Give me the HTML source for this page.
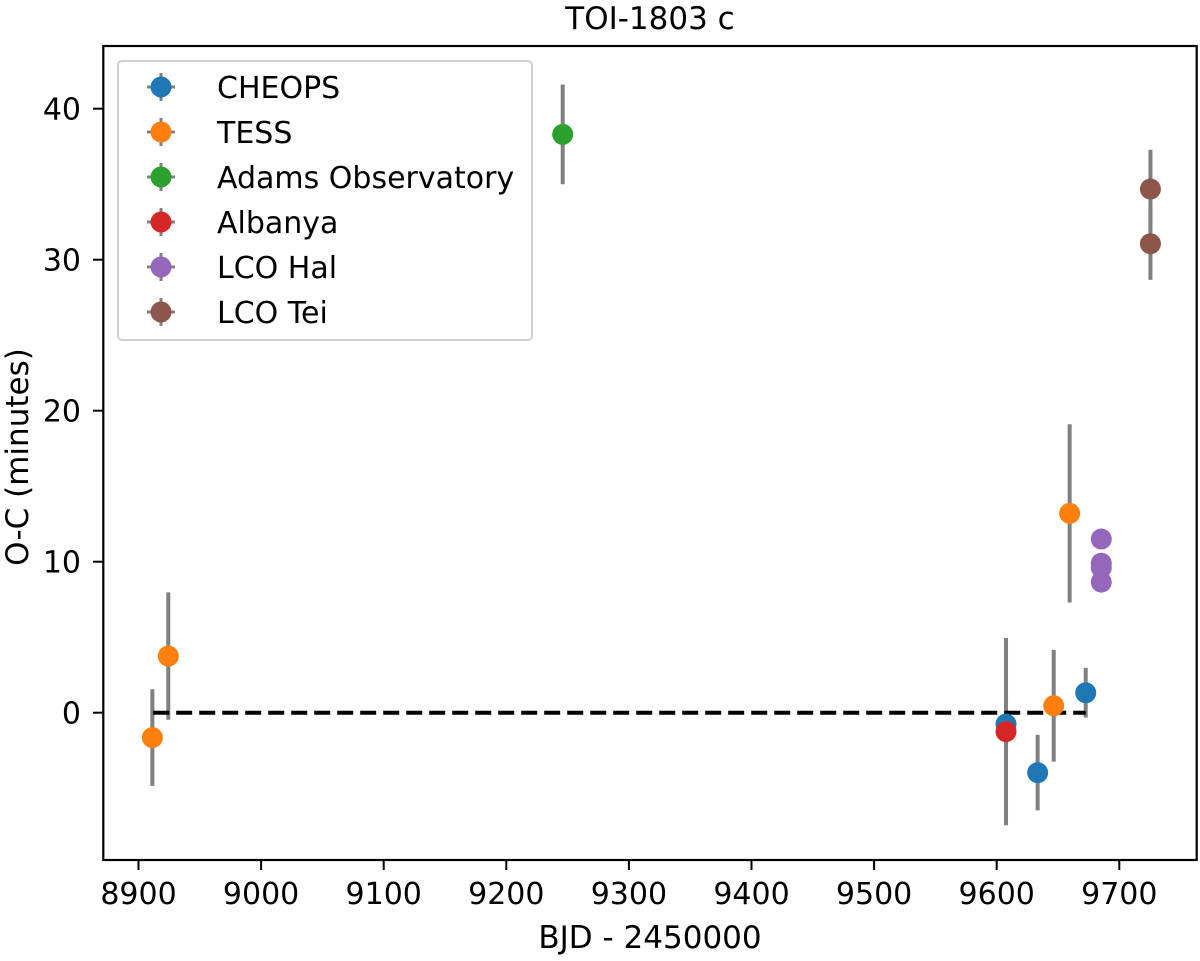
<!DOCTYPE html>
<html><head><meta charset="utf-8"><style>
html,body{margin:0;padding:0;background:#fff;}
svg text{font-family:"DejaVu Sans","Liberation Sans",sans-serif;fill:#000;}
</style></head><body>
<svg id="chart" width="1200" height="956" viewBox="0 0 1200 956" xmlns="http://www.w3.org/2000/svg">
<text x="650" y="29" font-size="31" text-anchor="middle">TOI-1803 c</text>
<g id="marks"></g>
<rect x="103.3" y="46" width="1093.4" height="814" fill="none" stroke="#000" stroke-width="2.2"/>
<g id="xticks"></g><g id="yticks"></g>
<text x="650" y="948" font-size="31" text-anchor="middle">BJD - 2450000</text>
<text transform="translate(28,457) rotate(-90)" font-size="31" text-anchor="middle">O-C (minutes)</text>
<g id="legend"></g>
</svg>
<script>
const seriesNames = ["CHEOPS","TESS","Adams Observatory","Albanya","LCO Hal","LCO Tei"];
const seriesColors = ["#1f77b4","#ff7f0e","#2ca02c","#d62728","#9467bd","#8c564b"];
const cheopsX = [9607.6, 9633.4, 9672.6];
const cheopsY = [-0.75, -3.97, 1.32];
const cheopsErr = [1.5, 2.5, 1.65];
const tessX = [8911.3, 8924.3, 9646.5, 9659.5];
const tessY = [-1.65, 3.75, 0.46, 13.2];
const tessErr = [3.2, 4.22, 3.7, 5.9];
const adamsX = [9246];
const adamsY = [38.3];
const adamsErr = [3.3];
const albanyaX = [9607.6];
const albanyaY = [-1.25];
const albanyaErr = [6.2];
const halX = [9685.3, 9685.3, 9685.3, 9685.3];
const halY = [11.5, 9.9, 9.6, 8.65];
const halErr = [0.5, 0.5, 0.5, 0.5];
const teiX = [9725.4, 9725.4];
const teiY = [34.68, 31.06];
const teiErr = [2.6, 2.4];
const refLineX = [8912, 9672.6];
const refLineY = [0, 0];
const xTicks = [8900, 9000, 9100, 9200, 9300, 9400, 9500, 9600, 9700];
const yTicks = [0, 10, 20, 30, 40];

const NS = "http://www.w3.org/2000/svg";
function X(v){ return 138.5 + (v - 8900) * 1.226; }
function Y(v){ return 712.7 - v * 15.1; }
function mk(tag, attrs, parent){ const e=document.createElementNS(NS,tag); for(const k in attrs) e.setAttribute(k,attrs[k]); parent.appendChild(e); return e; }

const marks = document.getElementById("marks");
const allSeries = [[cheopsX,cheopsY,cheopsErr],[tessX,tessY,tessErr],[adamsX,adamsY,adamsErr],[albanyaX,albanyaY,albanyaErr],[halX,halY,halErr],[teiX,teiY,teiErr]];
allSeries.forEach((s,si)=>{
  s[0].forEach((x,i)=>{
    const l = mk("line",{x1:X(x),x2:X(x),y1:Y(s[1][i]+s[2][i]),y2:Y(s[1][i]-s[2][i]),stroke:"#808080","stroke-width":4},marks);
    
    
  });
});
const ref = mk("line",{x1:X(refLineX[0]),x2:X(refLineX[1]),y1:Y(refLineY[0]),y2:Y(refLineY[1]),stroke:"#000","stroke-width":4,"stroke-dasharray":"16,7"},marks);


allSeries.forEach((s,si)=>{
  s[0].forEach((x,i)=>{
    const c = mk("circle",{cx:X(x),cy:Y(s[1][i]),r:10.5,fill:seriesColors[si]},marks);
    
    
  });
});

const xt = document.getElementById("xticks");
xTicks.forEach(v=>{
  const l = mk("line",{x1:X(v),x2:X(v),y1:860,y2:870,stroke:"#000","stroke-width":2},xt);
  
  
  const t = mk("text",{x:X(v),y:904,"font-size":30,"text-anchor":"middle"},xt);
  t.textContent = v;
  
  
});
const yt = document.getElementById("yticks");
yTicks.forEach(v=>{
  const l = mk("line",{x1:93,x2:103.3,y1:Y(v),y2:Y(v),stroke:"#000","stroke-width":2},yt);
  
  
  const t = mk("text",{x:81,y:Y(v)+11,"font-size":30,"text-anchor":"end"},yt);
  t.textContent = v;
  
  
});

const lg = document.getElementById("legend");
const box = mk("rect",{x:118,y:61,width:414,height:279,rx:4,fill:"#fff","fill-opacity":0.8,stroke:"#d0d0d0","stroke-width":2},lg);


seriesNames.forEach((n,i)=>{
  const cy = 87 + i*45;
  const g = mk("g",{},lg);
  
  
  mk("line",{x1:147,x2:175,y1:cy,y2:cy,stroke:"#808080","stroke-width":3},g);
  mk("line",{x1:161,x2:161,y1:cy-14,y2:cy+14,stroke:"#808080","stroke-width":3},g);
  mk("circle",{cx:161,cy:cy,r:10.5,fill:seriesColors[i]},g);
  const t = mk("text",{x:217,y:cy+11,"font-size":30},g);
  t.textContent = n;
});
</script>
</body></html>
